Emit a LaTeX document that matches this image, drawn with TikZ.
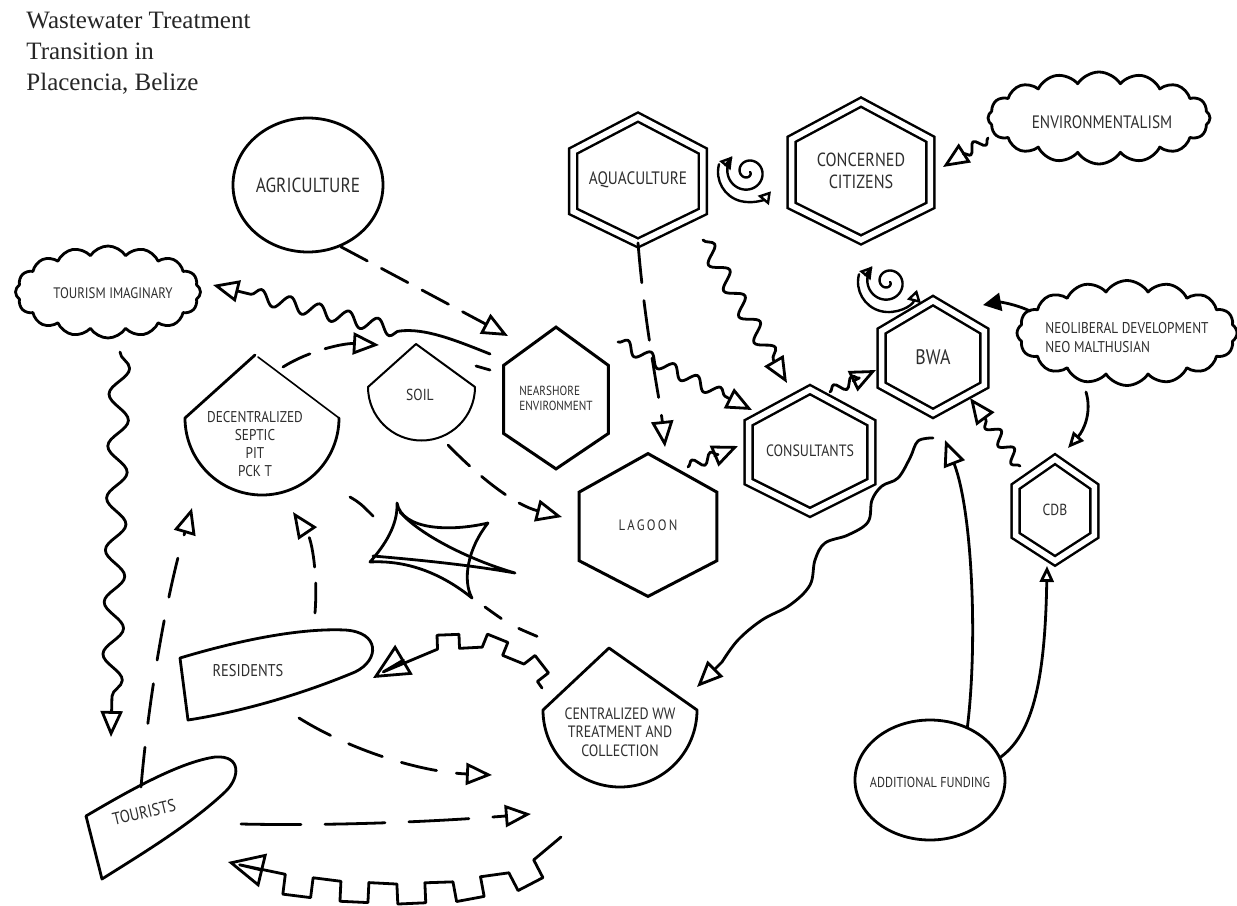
\documentclass[tikz,border=0pt]{standalone}
\usepackage{fontspec}
\setmainfont{Liberation Serif}
\newfontfamily\labfont[FakeStretch=0.85]{PT Sans}
\usetikzlibrary{shapes.geometric,shapes.symbols,arrows.meta,decorations.pathmorphing,calc}

\pgfdeclaredecoration{squarewave}{tooth}{
  \state{tooth}[width=\pgfdecorationsegmentlength]{
    \pgfpathlineto{\pgfpointorigin}
    \pgfpathlineto{\pgfqpoint{0pt}{\pgfdecorationsegmentamplitude}}
    \pgfpathlineto{\pgfqpoint{.5\pgfdecorationsegmentlength}{\pgfdecorationsegmentamplitude}}
    \pgfpathlineto{\pgfqpoint{.5\pgfdecorationsegmentlength}{0pt}}
  }
  \state{final}{
    \pgfpathlineto{\pgfpointdecoratedpathlast}
  }
}

\newcommand\lfs[2]{\labfont\fontsize{#1}{#2}\selectfont}
\newcommand\hexshape[2]{%
  \draw[#1] (#2.north) -- ($(#2.north east)!0.27!(#2.south east)$) -- ($(#2.north east)!0.75!(#2.south east)$)
    -- (#2.south) -- ($(#2.north west)!0.75!(#2.south west)$) -- ($(#2.north west)!0.27!(#2.south west)$) -- cycle;}

\begin{document}
\begin{tikzpicture}[x=0.5pt,y=-0.5pt,line width=1.4pt,line cap=round,line join=round,
  lab/.style={text=black!82,inner sep=0pt,align=center},
  dbl/.style={line width=1.25pt,double=white,double distance=2.8pt,line join=miter},
  sgl/.style={line width=1.5pt,line join=miter},
  dsh/.style={dash pattern=on 15pt off 8pt},
  tri/.style={-{Triangle[open,length=13pt,width=11pt]}},
  trismall/.style={-{Triangle[open,length=8pt,width=7pt]}},
  tribig/.style={-{Triangle[open,length=18pt,width=17pt]}},
  spi/.style={line width=1.2pt,-{Triangle[open,length=6pt,width=7pt]}},
  wav/.style={decorate,decoration={snake,segment length=13pt,amplitude=3pt,post length=10pt}},
  gear/.style={decorate,decoration={squarewave,segment length=26pt,amplitude=8pt,pre length=4pt,post length=6pt}},
  cloudsty/.style={draw,cloud,cloud puffs=16,cloud puff arc=115,cloud ignores aspect,inner sep=0pt}]

\fill[white] (0,0) rectangle (1237,905);
\useasboundingbox (0,0) rectangle (1237,905);

% title
\node[anchor=north west,align=left,inner sep=0pt,text=black!85,font=\fontsize{12.5}{15.5}\selectfont] (title) at (25,11)
  {Wastewater Treatment\\Transition in\\Placencia, Belize};

% ellipses
\node[draw,ellipse,lab,minimum width=75pt,minimum height=67pt,font=\lfs{10.2}{11}] (agr) at (308,185) {AGRICULTURE};
\node[draw,ellipse,minimum width=75pt,minimum height=60pt] (fund) at (930,780) {};
\node[lab,font=\lfs{7.2}{8}] (fundlab) at (930,782) {ADDITIONAL FUNDING};

% clouds
\node[cloudsty,minimum width=92.5pt,minimum height=46pt] (ti) at (108,292) {};
\node[lab,font=\lfs{7.6}{8}] (tilab) at (113,293) {TOURISM IMAGINARY};
\node[cloudsty,minimum width=111pt,minimum height=46pt] (env) at (1099,118) {};
\node[lab,font=\lfs{9}{10}] (envlab) at (1102,122) {ENVIRONMENTALISM};
\node[cloudsty,minimum width=110pt,minimum height=52.5pt] (neo) at (1127,333) {};
\node[lab,align=left,anchor=west,font=\lfs{7.8}{9.5}] (neolab) at (1044,338) {NEOLIBERAL DEVELOPMENT\\NEO MALTHUSIAN};

% hexagons
\node[lab,minimum width=63.5pt,minimum height=61.5pt,font=\lfs{9}{10}] (aqua) at (638,180) {AQUACULTURE};
\hexshape{dbl}{aqua}
\node[lab,minimum width=68pt,minimum height=67.5pt,font=\lfs{9.5}{11}] (cit) at (861,171) {CONCERNED\\CITIZENS};
\hexshape{dbl}{cit}
\node[lab,minimum width=50pt,minimum height=55pt,font=\lfs{10.5}{11}] (bwa) at (933,357) {BWA};
\hexshape{dbl}{bwa}
\node[lab,minimum width=60pt,minimum height=60pt,font=\lfs{8.2}{9}] (cons) at (810,451) {CONSULTANTS};
\hexshape{dbl}{cons}
\node[lab,minimum width=38pt,minimum height=49.5pt,font=\lfs{8}{9}] (cdb) at (1055,510) {CDB};
\hexshape{dbl}{cdb}
\node[lab,align=left,minimum width=51pt,minimum height=69.5pt,font=\lfs{6.6}{7.5}] (near) at (556,398) {NEARSHORE\\ENVIRONMENT};
\hexshape{sgl}{near}
\node[lab,minimum width=67.5pt,minimum height=70pt,font=\lfs{7.5}{9}\addfontfeature{LetterSpace=15}] (lag) at (648,525) {LAGOON};
\hexshape{sgl}{lag}

% shields
\draw (255,355) -- (185,418) arc[start angle=180,end angle=0,radius=77];
\draw[line width=0.8pt] (339,418) -- (258,357);
\node[lab,font=\lfs{7.8}{9}] (dec) at (255,444) {DECENTRALIZED\\SEPTIC\\PIT\\PCK T};
\draw[line width=1pt] (416,344) -- (368,387) arc[start angle=180,end angle=0,radius=53.5] -- cycle;
\node[lab,font=\lfs{8}{9}] (soil) at (420,395) {SOIL};
\draw (609,648) -- (543,710) arc[start angle=180,end angle=0,radius=77] -- cycle;
\node[lab,font=\lfs{8.2}{9.3}] (cent) at (620,732) {CENTRALIZED WW\\TREATMENT AND\\COLLECTION};

% residents, tourists
\draw (180,658) .. controls (240,640) and (300,628) .. (345,630) .. controls (380,632) and (380,660) .. (355,672)
  .. controls (300,695) and (240,712) .. (188,720) -- cycle;
\node[lab,font=\lfs{8.5}{9}] (res) at (248,671) {RESIDENTS};
\draw (86,816) .. controls (130,790) and (180,762) .. (215,757) .. controls (242,755) and (240,778) .. (225,792)
  .. controls (190,825) and (140,855) .. (102,879) -- cycle;
\node[lab,rotate=13,font=\lfs{8.7}{9}] (tour) at (144,812) {TOURISTS};

% star
\draw (397,503) .. controls (402,530) and (450,532) .. (488,523) .. controls (468,548) and (462,580) .. (472,598)
  .. controls (440,572) and (405,560) .. (370,562) .. controls (385,545) and (398,525) .. cycle;
\draw (373,556) .. controls (420,560) and (470,565) .. (515,573) .. controls (470,560) and (420,535) .. (400,512);

% spirals
\draw[spi] plot[domain=0:585,samples=140,smooth,variable=\t]
  ({748+(2+\t/29)*cos(\t)},{172+(2+\t/29)*sin(\t)});
\draw[spi] (748,172) ++(195:30) arc[start angle=195,end angle=40,radius=30];
\draw[spi] plot[domain=0:585,samples=140,smooth,variable=\t]
  ({888+(2+\t/29)*cos(\t)},{282+(2+\t/29)*sin(\t)});
\draw[spi] (888,282) ++(195:30) arc[start angle=195,end angle=15,radius=30];

% connectors
\draw[dsh,tri] (agr.-62) -- ($(near)+(-48,-62)$);
\draw[dsh,tri] (283,367) .. controls (310,350) and (345,343) .. ($(soil)+(-41,-50)$);
\draw[dsh,tri] (448,445) .. controls (480,478) and (515,505) .. ($(lag)+(-86,-8)$);
\draw[dash pattern=on 20pt off 9pt,tri] (aqua.south) .. controls (645,330) and (660,400) .. ($(lag)+(17,-78)$);
\draw[dsh] (350,497) .. controls (360,503) .. (374,517);
\draw[dash pattern=on 10pt off 10pt] (485,607) .. controls (510,625) .. (541,638);
\draw[wav,decoration={amplitude=4pt,segment length=15pt},tri] (703,240) -- ($(cons)+(-23,-68)$);
\draw[wav,tri] (618,342) -- ($(cons)+(-58,-41)$);
\draw[wav,decoration={segment length=10pt,amplitude=2.5pt,post length=8pt},tri] (688,467) -- ($(cons)+(-72,-5)$);
\draw[wav,decoration={segment length=10pt,amplitude=2.5pt,post length=8pt},tri] (830,392) -- ($(bwa)+(-57,13)$);
\draw[wav,decoration={segment length=11pt,amplitude=3pt},tri] (1020,466) -- ($(bwa)+(37,41)$);
\draw[tri] (fund.55) .. controls (978,640) and (972,510) .. ($(bwa)+(12,83)$);
\draw[tri] plot[smooth,tension=0.6] coordinates {(933,438) (918,441) (910,458) (898,478) (882,486) (872,500) (868,522)
  (848,535) (825,543) (815,560) (810,585) (790,605) (762,620) (738,640) (722,662)} -- ($(cent)+(77,-45)$);
\draw[-{Triangle[length=9pt,width=9pt]}] (1030,311) .. controls (1015,304) and (1000,302) .. ($(bwa)+(50,-52)$);
\draw[trismall] (1086,392) .. controls (1092,412) and (1084,430) .. ($(cdb)+(13,-62)$);
\draw[trismall] (fund.18) .. controls (1030,735) and (1045,690) .. ($(cdb)+(-8,56)$);
\draw[wav,decoration={segment length=9pt,amplitude=2.5pt,post length=8pt},tri] (988,138) -- ($(cit)+(82,-4)$);
\draw[tri] ($(near)+(-66,-44)$) .. controls (455,340) and (425,328) .. (400,331)
  decorate[decoration={snake,segment length=15pt,amplitude=3.6pt,post length=12pt}] {-- ($(ti)+(105,-7)$)};
\draw (476,366) -- (490,370);
\draw[dsh,tri] (315,613) .. controls (318,575) and (312,540) .. ($(dec)+(38,68)$);
\draw[dash pattern=on 20pt off 12pt,tri] (141,787) .. controls (148,705) and (165,600) .. ($(dec)+(-63,64)$);
\draw[wav,decoration={segment length=26pt,amplitude=5pt,post length=16pt},tri] ($(ti)+(12,60)$) -- ($(tour)+(-33,-75)$);
\draw[dash pattern=on 18pt off 10pt,tri] (299,718) .. controls (350,750) and (420,772) .. ($(cent)+(-128,43)$);
\draw[dash pattern=on 30pt off 12pt,tri] (241,824) .. controls (330,826) and (430,822) .. ($(cent)+(-89,82)$);
\draw[gear,decoration={amplitude=-7pt,segment length=22pt},tribig] (542,688) .. controls (515,645) and (450,630) .. ($(res)+(125,7)$);
\draw[gear,decoration={amplitude=10pt,segment length=28pt,pre length=18pt},tribig] (561,837) .. controls (525,892) and (360,895) .. ($(tour)+(84,50)$);
\end{tikzpicture}
\end{document}
